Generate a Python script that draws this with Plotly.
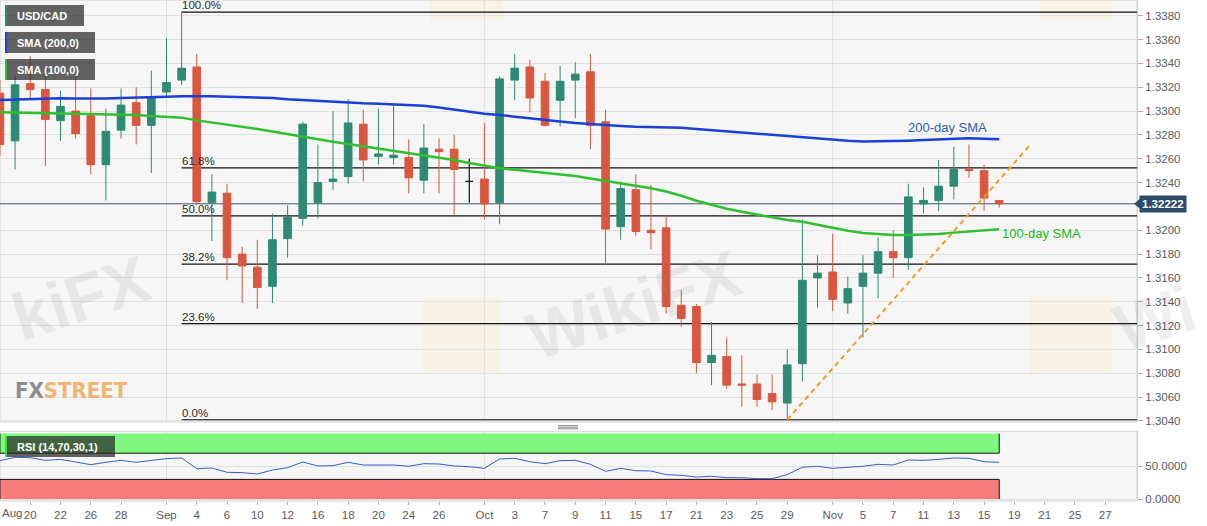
import plotly.graph_objects as go
import pandas as pd

# ---------------- data ----------------
dates = [
    "2019-08-16", "2019-08-19", "2019-08-20", "2019-08-21", "2019-08-22", "2019-08-23",
    "2019-08-26", "2019-08-27", "2019-08-28", "2019-08-29", "2019-08-30",
    "2019-09-02", "2019-09-03", "2019-09-04", "2019-09-05", "2019-09-06",
    "2019-09-09", "2019-09-10", "2019-09-11", "2019-09-12", "2019-09-13",
    "2019-09-16", "2019-09-17", "2019-09-18", "2019-09-19", "2019-09-20",
    "2019-09-23", "2019-09-24", "2019-09-25", "2019-09-26", "2019-09-27",
    "2019-09-30", "2019-10-01", "2019-10-02", "2019-10-03", "2019-10-04",
    "2019-10-07", "2019-10-08", "2019-10-09", "2019-10-10", "2019-10-11",
    "2019-10-14", "2019-10-15", "2019-10-16", "2019-10-17", "2019-10-18",
    "2019-10-21", "2019-10-22", "2019-10-23", "2019-10-24", "2019-10-25",
    "2019-10-28", "2019-10-29", "2019-10-30", "2019-10-31", "2019-11-01",
    "2019-11-04", "2019-11-05", "2019-11-06", "2019-11-07", "2019-11-08",
    "2019-11-11", "2019-11-12", "2019-11-13", "2019-11-14", "2019-11-15",
    "2019-11-18",
]
opens = [
    1.3315, 1.3275, 1.3323, 1.3318, 1.3292, 1.3300, 1.3296, 1.3255, 1.3284, 1.3307, 1.3288,
    1.3316, 1.3326, 1.3337, 1.3223, 1.3231, 1.3180, 1.3169, 1.3153, 1.3193, 1.3210,
    1.3223, 1.3241, 1.3245, 1.3289, 1.3262, 1.3261, 1.3261, 1.3242, 1.3268, 1.3268, 1.3241,
    1.3243, 1.3223, 1.3326, 1.3337, 1.3325, 1.3309, 1.3326, 1.3333, 1.3291, 1.3203, 1.3234,
    1.3200, 1.3202, 1.3137, 1.3136, 1.3089, 1.3094, 1.3071, 1.3071, 1.3063, 1.3055, 1.3088, 1.3160,
    1.3165, 1.3139, 1.3153, 1.3164, 1.3182, 1.3177, 1.3222, 1.3225, 1.3237, 1.3251, 1.3250, 1.3225,
]
highs = [
    1.3326, 1.3330, 1.3346, 1.3329, 1.3317, 1.3330, 1.3319, 1.3302, 1.3319, 1.3320, 1.3334,
    1.3361, 1.3383, 1.3348, 1.3247, 1.3239, 1.3186, 1.3192, 1.3214, 1.3221, 1.3291,
    1.3272, 1.3300, 1.3310, 1.3301, 1.3302, 1.3305, 1.3276, 1.3289, 1.3277, 1.3280, 1.3260,
    1.3290, 1.3329, 1.3348, 1.3343, 1.3332, 1.3338, 1.3341, 1.3348, 1.3301, 1.3241, 1.3247,
    1.3238, 1.3213, 1.3150, 1.3138, 1.3123, 1.3110, 1.3095, 1.3079, 1.3079, 1.3100, 1.3209, 1.3179,
    1.3197, 1.3161, 1.3179, 1.3194, 1.3200, 1.3239, 1.3236, 1.3259, 1.3270, 1.3272, 1.3255, 1.3225,
]
lows = [
    1.3262, 1.3251, 1.3309, 1.3254, 1.3275, 1.3277, 1.3247, 1.3225, 1.3277, 1.3272, 1.3248,
    1.3312, 1.3322, 1.3221, 1.3191, 1.3158, 1.3139, 1.3134, 1.3139, 1.3177, 1.3204,
    1.3210, 1.3234, 1.3239, 1.3241, 1.3255, 1.3255, 1.3231, 1.3231, 1.3231, 1.3213, 1.3223,
    1.3209, 1.3205, 1.3309, 1.3299, 1.3287, 1.3287, 1.3294, 1.3268, 1.3171, 1.3192, 1.3195,
    1.3184, 1.3130, 1.3119, 1.3080, 1.3070, 1.3067, 1.3052, 1.3052, 1.3049, 1.3041, 1.3073, 1.3135,
    1.3132, 1.3130, 1.3110, 1.3143, 1.3160, 1.3167, 1.3214, 1.3216, 1.3226, 1.3244, 1.3216, 1.3219,
]
closes = [
    1.3272, 1.3322, 1.3318, 1.3293, 1.3304, 1.3281, 1.3255, 1.3283, 1.3305, 1.3288, 1.3311,
    1.3324, 1.3336, 1.3224, 1.3232, 1.3177, 1.3170, 1.3152, 1.3192, 1.3211, 1.3289,
    1.3240, 1.3243, 1.3290, 1.3259, 1.3264, 1.3263, 1.3244, 1.3269, 1.3266, 1.3251, 1.3241,
    1.3222, 1.3327, 1.3336, 1.3311, 1.3288, 1.3325, 1.3331, 1.3288, 1.3201, 1.3235, 1.3199,
    1.3198, 1.3136, 1.3126, 1.3089, 1.3095, 1.3070, 1.3070, 1.3058, 1.3056, 1.3087, 1.3158, 1.3164,
    1.3142, 1.3151, 1.3164, 1.3182, 1.3177, 1.3228, 1.3225, 1.3237, 1.3251, 1.3250, 1.3227, 1.32222,
]
sma200 = [
    1.33093, 1.33097, 1.33100, 1.33105, 1.33107, 1.33106, 1.33104, 1.33106, 1.33110, 1.33112, 1.33116,
    1.33120, 1.33125, 1.33126, 1.33124, 1.33121, 1.33118, 1.33114, 1.33110, 1.33100, 1.33092,
    1.33085, 1.33078, 1.33072, 1.33066, 1.33062, 1.33058, 1.33052, 1.33044, 1.33030, 1.33012, 1.32992,
    1.32977, 1.32967, 1.32955, 1.32942, 1.32930, 1.32913, 1.32900, 1.32890, 1.32880, 1.32874, 1.32868,
    1.32866, 1.32864, 1.32860, 1.32850, 1.32840, 1.32830, 1.32820, 1.32812, 1.32800, 1.32788, 1.32780, 1.32772,
    1.32763, 1.32752, 1.32745, 1.32746, 1.32749, 1.32752, 1.32757, 1.32762, 1.32767, 1.32771, 1.32768, 1.32763,
]
sma100 = [
    1.32990, 1.32988, 1.32986, 1.32984, 1.32982, 1.32979, 1.32977, 1.32974, 1.32970, 1.32966, 1.32958,
    1.32953, 1.32945, 1.32922, 1.32905, 1.32890, 1.32870, 1.32850, 1.32828, 1.32805, 1.32782,
    1.32763, 1.32743, 1.32724, 1.32705, 1.32686, 1.32665, 1.32648, 1.32630, 1.32610, 1.32590, 1.32565,
    1.32542, 1.32520, 1.32507, 1.32495, 1.32482, 1.32469, 1.32455, 1.32435, 1.32415, 1.32395, 1.32375,
    1.32352, 1.32325, 1.32290, 1.32248, 1.32215, 1.32180, 1.32155, 1.32133, 1.32108, 1.32086, 1.32072, 1.32045,
    1.32016, 1.31995, 1.31976, 1.31966, 1.31961, 1.31961, 1.31964, 1.31968, 1.31980, 1.31988, 1.31998, 1.32008,
]
rsi = [
    58.6, 63.7, 63.2, 59.1, 60.6, 56.6, 52.5, 56.1, 59.1, 56.1, 59.1,
    61.7, 62.7, 46.4, 47.4, 40.8, 40.3, 38.2, 44.3, 47.9, 56.6,
    50.5, 51.0, 56.1, 52.0, 52.5, 52.0, 50.0, 54.0, 53.5, 50.5, 49.4,
    46.9, 61.2, 62.2, 57.0, 54.0, 58.6, 59.1, 53.0, 42.3, 46.9, 43.3,
    42.8, 37.2, 36.2, 33.6, 34.7, 32.6, 32.6, 31.1, 31.1, 37.2, 48.5, 50.0,
    46.9, 48.5, 50.0, 53.0, 52.0, 59.6, 59.1, 60.6, 62.7, 62.2, 57.0, 56.1,
]
tick_dates = [
    "2019-08-20", "2019-08-22", "2019-08-26", "2019-08-28", "2019-09-02", "2019-09-04",
    "2019-09-06", "2019-09-10", "2019-09-12", "2019-09-16", "2019-09-18", "2019-09-20",
    "2019-09-24", "2019-09-26", "2019-10-01", "2019-10-03", "2019-10-07", "2019-10-09",
    "2019-10-11", "2019-10-15", "2019-10-17", "2019-10-21", "2019-10-23", "2019-10-25",
    "2019-10-29", "2019-11-01", "2019-11-05", "2019-11-07", "2019-11-11", "2019-11-13",
    "2019-11-15", "2019-11-19", "2019-11-21", "2019-11-25", "2019-11-27",
]
tick_labels = [
    "20", "22", "26", "28", "Sep", "4", "6", "10", "12", "16", "18", "20", "24", "26",
    "Oct", "3", "7", "9", "11", "15", "17", "21", "23", "25", "29",
    "Nov", "5", "7", "11", "13", "15", "19", "21", "25", "27",
]
price_ticks = [1.3040, 1.3060, 1.3080, 1.3100, 1.3120, 1.3140, 1.3160, 1.3180, 1.3200,
               1.3220, 1.3240, 1.3260, 1.3280, 1.3300, 1.3320, 1.3340, 1.3360, 1.3380]
month_starts = ["2019-09-02", "2019-10-01", "2019-11-01"]
trend_dates = ["2019-10-29", "2019-11-20"]
trend_values = [1.3041, 1.3271]
fib_ratios = [0.0, 0.236, 0.382, 0.5, 0.618, 1.0]
fib_labels = ["0.0%", "23.6%", "38.2%", "50.0%", "61.8%", "100.0%"]
rsi_upper, rsi_lower = 70, 30

# ---------------- trading-day axis ----------------
cal = pd.bdate_range(dates[0], "2019-11-29")
pos = {d.strftime("%Y-%m-%d"): i for i, d in enumerate(cal)}
x = [pos[d] for d in dates]

X_MIN, X_MAX = 0.005, 75.1
Y_MIN, Y_MAX = 1.30391, 1.33932
R_MIN, R_MAX = -3.06, 103.5

W, H = 1207, 526
ML, MR, MT, MB = 0, 70, 0, 25
PW, PH = W - ML - MR, H - MT - MB


def fx(p):
    return p / PW


def fy(p):
    return (PH - p) / PH


MAIN_DOM = [fy(422), 1.0]
RSI_DOM = [0.0, fy(431.3)]

GREEN = "#2e8a73"
RED = "#d9573f"
BLUE = "#1b3fd8"
LIME = "#2ec02e"
FONT = "Liberation Sans, Arial, sans-serif"
TICKCOL = "#5a5a5a"

fig = go.Figure()

normal = [i for i in range(len(dates)) if opens[i] != closes[i]]
doji = [i for i in range(len(dates)) if opens[i] == closes[i]]


def pick(arr, idx):
    return [arr[i] for i in idx]


fig.add_trace(go.Candlestick(
    x=pick(x, normal), open=pick(opens, normal), high=pick(highs, normal),
    low=pick(lows, normal), close=pick(closes, normal),
    increasing=dict(line=dict(color=GREEN, width=1), fillcolor=GREEN),
    decreasing=dict(line=dict(color=RED, width=1), fillcolor=RED),
    whiskerwidth=0, showlegend=False, xaxis="x", yaxis="y",
))
if doji:
    fig.add_trace(go.Candlestick(
        x=pick(x, doji), open=pick(opens, doji), high=pick(highs, doji),
        low=pick(lows, doji), close=pick(closes, doji),
        increasing=dict(line=dict(color="#111111", width=1.2), fillcolor="#111111"),
        decreasing=dict(line=dict(color="#111111", width=1.2), fillcolor="#111111"),
        whiskerwidth=0, showlegend=False, xaxis="x", yaxis="y",
    ))

fig.add_trace(go.Scatter(x=x, y=sma200, mode="lines", line=dict(color=BLUE, width=2.5),
                         showlegend=False, hoverinfo="skip", xaxis="x", yaxis="y"))
fig.add_trace(go.Scatter(x=x, y=sma100, mode="lines", line=dict(color=LIME, width=2.5),
                         showlegend=False, hoverinfo="skip", xaxis="x", yaxis="y"))
fig.add_trace(go.Scatter(x=[pos[d] for d in trend_dates], y=trend_values, mode="lines",
                         line=dict(color="#f59a23", width=2, dash="5px,4px"),
                         showlegend=False, hoverinfo="skip", xaxis="x", yaxis="y"))
fig.add_trace(go.Scatter(x=x, y=rsi, mode="lines", line=dict(color="#3a5bd0", width=1),
                         showlegend=False, hoverinfo="skip", xaxis="x", yaxis="y2"))

shapes = []
annotations = []

# panel borders
for yd in ("y domain", "y2 domain"):
    shapes.append(dict(type="rect", xref="x domain", yref=yd, x0=0, x1=1, y0=0, y1=1,
                       line=dict(color="#d4d4d4", width=1), layer="below"))
# month gridlines
for d in month_starts:
    for yd in ("y domain", "y2 domain"):
        shapes.append(dict(type="line", xref="x", yref=yd, x0=pos[d], x1=pos[d], y0=0, y1=1,
                           line=dict(color="#e0e0e0", width=1), layer="below"))

# RSI bands
x0b, x1b = x[0], x[-1]
shapes.append(dict(type="rect", xref="x", yref="y2", x0=x0b, x1=x1b, y0=rsi_upper, y1=100,
                   fillcolor="#80f880", line=dict(width=0), layer="below"))
shapes.append(dict(type="rect", xref="x", yref="y2", x0=x0b, x1=x1b, y0=0, y1=rsi_lower,
                   fillcolor="#f87c7c", line=dict(width=0), layer="below"))
shapes.append(dict(type="path", xref="x", yref="y2",
                   path=f"M {x0b},100 L {x0b},{rsi_upper} L {x1b},{rsi_upper} L {x1b},100",
                   line=dict(color="#111111", width=1), layer="below"))
shapes.append(dict(type="path", xref="x", yref="y2",
                   path=f"M {x0b},0 L {x0b},{rsi_lower} L {x1b},{rsi_lower} L {x1b},0",
                   line=dict(color="#111111", width=1), layer="below"))

# Fibonacci retracement
i_hi = highs.index(max(highs))
fib_hi, fib_lo = max(highs), min(lows)
for r, lab in zip(fib_ratios, fib_labels):
    lvl = fib_lo + r * (fib_hi - fib_lo)
    shapes.append(dict(type="line", xref="x", yref="y", x0=x[i_hi], x1=X_MAX, y0=lvl, y1=lvl,
                       line=dict(color="#111111", width=1.2), layer="between"))
    annotations.append(dict(xref="x", yref="y", x=x[i_hi], y=lvl, text=lab, showarrow=False,
                            xanchor="left", yanchor="bottom", xshift=-2, yshift=-1,
                            font=dict(family=FONT, size=11.5, color="#2a2a2a")))

# current price line + label (the tick hidden under the label is left out)
last = closes[-1]
shown_ticks = [t for t in price_ticks if abs(t - last) > 0.0008]
shapes.append(dict(type="line", xref="paper", yref="y", x0=0, x1=1, y0=last, y1=last,
                   line=dict(color="#3d5570", width=1), layer="between"))
dpx = (Y_MAX - Y_MIN) / 422.0
shapes.append(dict(type="path", xref="paper", yref="y",
                   path=f"M {fx(1134)},{last} L {fx(1140)},{last + 5 * dpx} L {fx(1140)},{last - 5 * dpx} Z",
                   fillcolor="#2c4a6a", line=dict(width=0), layer="above"))
annotations.append(dict(xref="paper", yref="y", x=fx(1139), y=last, text=f"<b>{last:.5f}</b>",
                        showarrow=False, xanchor="left", yanchor="middle", bgcolor="#2c4a6a",
                        borderpad=2, font=dict(family=FONT, size=11.5, color="white")))

# SMA labels
annotations.append(dict(xref="x", yref="y", x=x[-1], y=sma200[-1], text="200-day SMA",
                        showarrow=False, xanchor="right", yanchor="bottom", xshift=-10, yshift=2,
                        font=dict(family=FONT, size=13, color="#2d5fb5")))
annotations.append(dict(xref="x", yref="y", x=x[-1], y=sma100[-1], text="100-day SMA",
                        showarrow=False, xanchor="left", yanchor="middle", xshift=1, yshift=-4,
                        font=dict(family=FONT, size=13, color="#22b822")))

# watermarks (visible parts only, as in the reference)
for wtxt, cx, cy, anc in (("kiFX", 0, 298, "left"), ("WikiFX", 633, 305, "center"), ("Wi", 1207, 318, "right")):
    annotations.append(dict(xref="paper", yref="paper", x=fx(cx), y=fy(cy), text=f"<b>{wtxt}</b>",
                            showarrow=False, xanchor=anc, yanchor="middle", textangle=-18,
                            font=dict(family=FONT, size=66, color="rgba(120,120,120,0.12)")))
for lx0, ly0, lx1, ly1 in ((423, 297, 500, 373), (1030, 296, 1112, 373), (430, -55, 503, 21), (1040, -55, 1112, 21)):
    shapes.append(dict(type="rect", xref="paper", yref="paper", x0=fx(lx0), x1=fx(lx1),
                       y0=fy(ly1), y1=fy(ly0), fillcolor="rgba(250,215,110,0.12)",
                       line=dict(width=0), layer="below"))

annotations.append(dict(xref="paper", yref="paper", x=fx(13), y=fy(390),
                        text="<b><span style='color:#8c8c8c'>FX</span><span style='color:#f2b670'>STREET</span></b>",
                        showarrow=False, xanchor="left", yanchor="middle",
                        font=dict(family="DejaVu Sans Condensed, Liberation Sans Narrow, sans-serif", size=22)))

# legend boxes
boxes = [
    ("USD/CAD", 5, 84, 5, 26, GREEN),
    ("SMA (200,0)", 5, 95, 32, 53, BLUE),
    ("SMA (100,0)", 5, 95, 59, 80, LIME),
    ("RSI (14,70,30,1)", 5, 115, 436, 457, "#39e039"),
]
for txt, bx0, bx1, by0, by1, col in boxes:
    shapes.append(dict(type="rect", xref="paper", yref="paper", x0=fx(bx0), x1=fx(bx1),
                       y0=fy(by1), y1=fy(by0), fillcolor="rgba(40,40,40,0.72)",
                       line=dict(width=0), layer="above"))
    shapes.append(dict(type="rect", xref="paper", yref="paper", x0=fx(bx0), x1=fx(bx0 + 2),
                       y0=fy(by1), y1=fy(by0), fillcolor=col, line=dict(width=0), layer="above"))
    annotations.append(dict(xref="paper", yref="paper", x=fx(bx0 + 10), y=fy((by0 + by1) / 2),
                            text=f"<b>{txt}</b>", showarrow=False, xanchor="left", yanchor="middle",
                            font=dict(family=FONT, size=11, color="white")))

# splitter handle
for yy in (425.6, 427.2, 428.8):
    shapes.append(dict(type="line", xref="paper", yref="paper", x0=fx(558), x1=fx(578),
                       y0=fy(yy), y1=fy(yy), line=dict(color="#8a8a8a", width=1)))

# first month label
annotations.append(dict(xref="paper", yref="paper", x=0, y=fy(513), text="Aug", showarrow=False,
                        xanchor="left", yanchor="middle",
                        font=dict(family=FONT, size=11.5, color=TICKCOL)))

fig.update_layout(
    width=W, height=H,
    margin=dict(l=ML, r=MR, t=MT, b=MB),
    paper_bgcolor="white", plot_bgcolor="#f6f6f6",
    showlegend=False, hovermode=False, boxgap=0.28,
    font=dict(family=FONT, size=11.5, color=TICKCOL),
    xaxis=dict(range=[X_MIN, X_MAX], anchor="y2", tickmode="array",
               tickvals=[pos[d] for d in tick_dates], ticktext=tick_labels,
               showgrid=False, zeroline=False, showline=False, ticks="outside", ticklen=3,
               tickcolor="#b0b0b0", tickfont=dict(family=FONT, size=11.5, color=TICKCOL),
               rangeslider=dict(visible=False), fixedrange=True),
    yaxis=dict(domain=MAIN_DOM, range=[Y_MIN, Y_MAX], side="right", tickmode="array",
               tickvals=shown_ticks, tickformat=".4f", ticks="outside", ticklen=5, tickcolor="#b0b0b0",
               gridcolor="#e2e2e2", zeroline=False, showline=True, linecolor="#cfcfcf",
               tickfont=dict(family=FONT, size=11.5, color=TICKCOL), fixedrange=True),
    yaxis2=dict(domain=RSI_DOM, range=[R_MIN, R_MAX], side="right", tickmode="array",
                tickvals=[0, 50], tickformat=".4f", ticks="outside", ticklen=5, tickcolor="#b0b0b0",
                gridcolor="#e2e2e2", zeroline=False, showline=True, linecolor="#cfcfcf",
                tickfont=dict(family=FONT, size=11.5, color=TICKCOL), fixedrange=True),
    shapes=shapes,
    annotations=annotations,
)

fig.write_html("out.html", config={"displayModeBar": False},
               post_script="document.body.style.margin='0px';")
